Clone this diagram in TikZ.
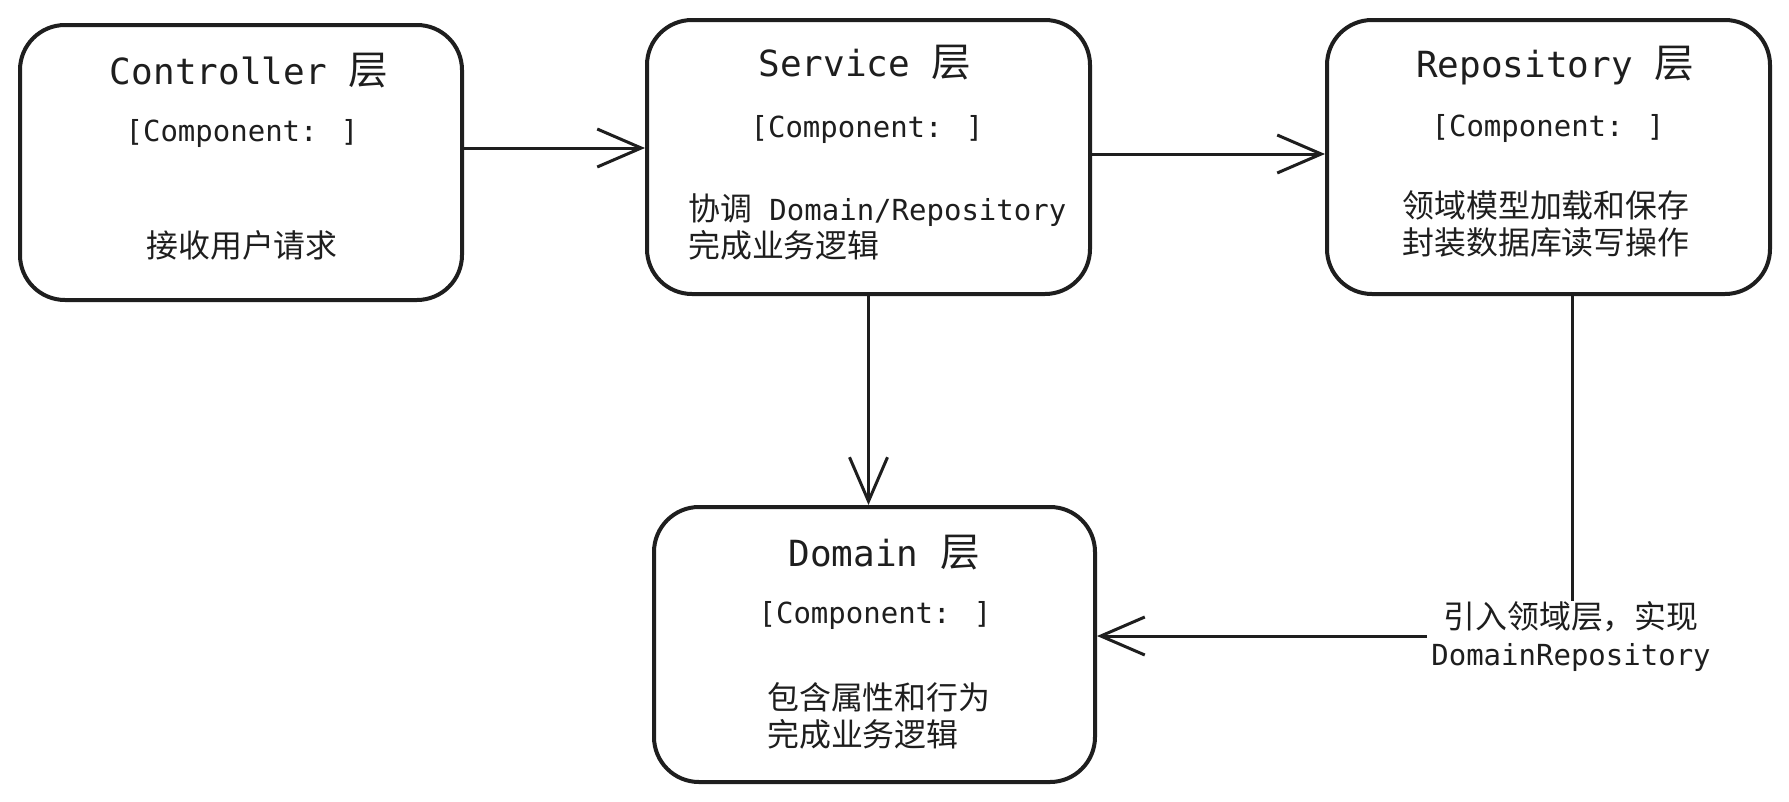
\documentclass[tikz,border=0pt]{standalone}
\usepackage{fontspec}
\setmainfont{DejaVu Sans Mono}
\newfontfamily\cjk{Noto Sans CJK SC}[Scale=1.1]
\usetikzlibrary{arrows.meta}
\definecolor{ink}{HTML}{1E1E1E}
\newcommand\zh[1]{{\cjk #1}}
\begin{document}
\begin{tikzpicture}[x=1pt,y=-1pt,
  layerbox/.style={draw=ink, line width=4pt, rounded corners=45pt, inner sep=0},
  ttl/.style={inner sep=0, text=ink, font=\fontsize{36}{42}\selectfont},
  cmp/.style={inner sep=0, text=ink, font=\fontsize{29}{34}\selectfont},
  txt/.style={inner sep=0, text=ink, font=\fontsize{29}{37}\selectfont},
  conn/.style={draw=ink, line width=3pt, -{Straight Barb[length=44pt,width=38pt]}},
  plain/.style={draw=ink, line width=3pt}]
\useasboundingbox (0,0) rectangle (1789,801);
\fill[white] (0,0) rectangle (1789,801);

% boxes
\node[layerbox, minimum width=442pt, minimum height=275pt] (ctrl) at (241,162.5) {};
\node[layerbox, minimum width=443pt, minimum height=274pt] (svc) at (868.5,157) {};
\node[layerbox, minimum width=443pt, minimum height=274pt] (repo) at (1548.5,157) {};
\node[layerbox, minimum width=441pt, minimum height=275pt] (dom) at (874.5,644.5) {};

% Controller
\node[ttl] (ctrlT) at (249,71) {Controller \zh{层}};
\node[cmp] (ctrlC) at (242,133.5) {[Component: ]};
\node[txt] (ctrlB) at (242,245) {\zh{接收用户请求}};

% Service
\node[ttl] (svcT) at (865,63) {Service \zh{层}};
\node[cmp] (svcC) at (867,129) {[Component: ]};
\node[txt, anchor=west, align=left] (svcB) at (688,227) {\zh{协调} Domain/Repository\\\zh{完成业务逻辑}};

% Repository
\node[ttl] (repoT) at (1555,66) {Repository \zh{层}};
\node[cmp] (repoC) at (1548,128) {[Component: ]};
\node[txt, align=center] (repoB) at (1546,223.5) {\zh{领域模型加载和保存}\\\zh{封装数据库读写操作}};

% Domain
\node[ttl] (domT) at (884,553) {Domain \zh{层}};
\node[cmp] (domC) at (875,615) {[Component: ]};
\node[txt, anchor=west, align=left] (domB) at (767,716) {\zh{包含属性和行为}\\\zh{完成业务逻辑}};

% label
\node[txt, align=center] (lbl) at (1571,636) {\zh{引入领域层，实现}\\DomainRepository};

% connectors
\draw[conn] ([yshift=14.5pt]ctrl.east) -- ([yshift=14.5pt]ctrl.east -| svc.west);
\draw[conn] ([yshift=3pt]svc.east) -- ([yshift=3pt]svc.east -| repo.west);
\draw[conn] (svc.south) -- (svc.south |- dom.north);
\draw[plain] ([xshift=23.5pt]repo.south) -- ([xshift=23.5pt]repo.south |- lbl.north);
\draw[conn] ([xshift=-4pt]lbl.west) -- (lbl.west -| dom.east);
\end{tikzpicture}
\end{document}
